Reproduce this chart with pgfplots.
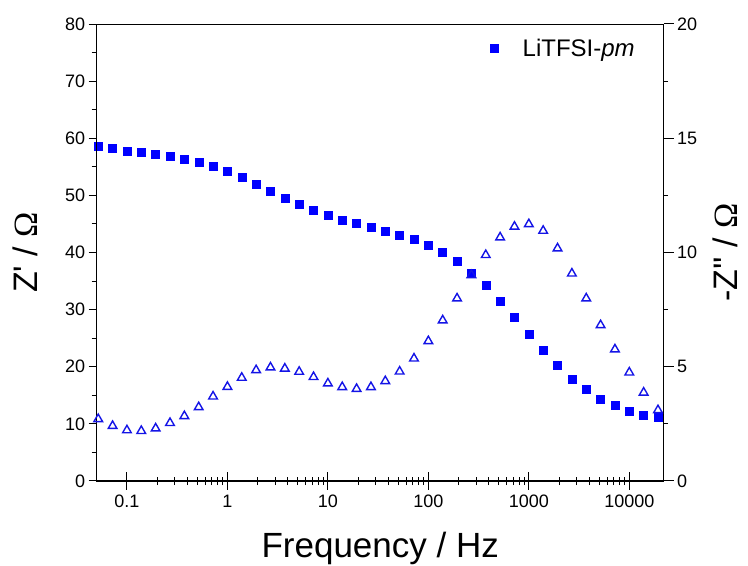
\documentclass[border=0pt]{standalone}
\usepackage{fontspec}
\setmainfont{Liberation Sans}
\newfontfamily\omfont{Liberation Serif}
\usepackage{pgfplots}
\usepackage{pgfplotstable}
\pgfplotsset{compat=1.18}

\pgfplotstableread{
f zr zi
0.05179 58.6 2.71
0.07197 58.25 2.41
0.1 57.8 2.22
0.1389 57.5 2.19
0.1931 57.2 2.30
0.2683 56.8 2.54
0.3728 56.3 2.84
0.5179 55.8 3.23
0.7197 55.1 3.70
1 54.2 4.12
1.389 53.1 4.52
1.931 52.0 4.85
2.683 50.8 4.97
3.728 49.5 4.92
5.179 48.4 4.78
7.197 47.4 4.55
10 46.5 4.27
13.89 45.7 4.11
19.31 45.1 4.03
26.83 44.4 4.11
37.28 43.8 4.37
51.79 43.1 4.79
71.97 42.35 5.36
100 41.35 6.12
138.9 40.0 7.03
193.1 38.5 7.99
268.3 36.4 9.01
372.8 34.2 9.89
517.9 31.5 10.66
719.7 28.7 11.13
1000 25.7 11.24
1389 22.9 10.95
1931 20.2 10.18
2683 17.9 9.08
3728 16.0 7.99
5179 14.4 6.82
7197 13.2 5.76
10000 12.2 4.75
13895 11.5 3.87
19307 11.1 3.10
}\data

\definecolor{mblue}{RGB}{0,0,255}
\definecolor{tblue}{RGB}{20,20,230}

\begin{document}
\begin{tikzpicture}
\useasboundingbox (-96.7pt,-84.3pt) rectangle (651.3pt,481pt);

% main axis: x ticks (centred), Z' data
\begin{axis}[
  width=567pt, height=457pt, scale only axis, at={(0,0)}, anchor=south west,
  xmode=log, xmin=0.05, xmax=22000,
  axis line style={line width=1pt, black},
  every tick/.append style={line width=1pt, black},
  tick label style={font=\fontsize{18}{20}\selectfont},
  /pgf/number format/assume math mode=true,
  ymin=0, ymax=80, ytick=\empty,
  xtick={0.1,1,10,100,1000,10000},
  xticklabels={0.1,1,10,100,1000,10000},
  xtick pos=left, tick align=center,
  major tick length=17pt, minor tick length=8pt,
  xticklabel style={yshift=-2pt},
  xlabel={Frequency / Hz},
  xlabel style={font=\fontsize{35}{40}\selectfont, at={(axis description cs:0.5,-0.147)}, anchor=center},
  legend style={draw=none, fill=none, font=\fontsize{24}{27}\selectfont,
    at={(axis description cs:0.958,0.946)}, anchor=east},
  legend cell align=left,
]
\addplot[only marks, mark=square*, mark size=4pt, color=mblue,
  mark options={draw=mblue, fill=mblue}] table[x=f, y=zr] {\data};
\addlegendentry{\hspace{22pt}LiTFSI-\textit{pm}}
\end{axis}

% left y axis
\begin{axis}[
  width=567pt, height=457pt, scale only axis, at={(0,0)}, anchor=south west,
  xmode=log, xmin=0.05, xmax=22000,
  axis line style={line width=1pt, black},
  every tick/.append style={line width=1pt, black},
  tick label style={font=\fontsize{18}{20}\selectfont},
  /pgf/number format/assume math mode=true,
  ymin=0, ymax=80, ytick={0,10,...,80}, minor y tick num=1,
  xtick=\empty, xminorticks=false, ytick pos=left, tick align=outside,
  major tick length=8pt, minor tick length=5pt,
  ylabel={Z\textquotesingle\ / {\omfont Ω}},
  ylabel style={font=\fontsize{34}{40}\selectfont, at={(axis description cs:-0.1265,0.5)}, anchor=center},
]
\end{axis}

% right y axis, -Z'' data
\begin{axis}[
  width=567pt, height=457pt, scale only axis, at={(0,0)}, anchor=south west,
  xmode=log, xmin=0.05, xmax=22000,
  axis line style={line width=1pt, black},
  every tick/.append style={line width=1pt, black},
  tick label style={font=\fontsize{18}{20}\selectfont},
  /pgf/number format/assume math mode=true,
  axis x line=none, axis y line*=right,
  ymin=0, ymax=20, ytick={0,5,...,20}, minor y tick num=1,
  tick align=outside,
  major tick length=10pt, minor tick length=4.5pt,
  ylabel={-Z\textquotesingle\textquotesingle\ / {\omfont Ω}},
  ylabel style={font=\fontsize{34}{40}\selectfont, at={(axis description cs:1.108,0.5)}, anchor=center},
]
\addplot[only marks, mark=triangle, mark size=5pt, color=tblue,
  mark options={line width=1.4pt}] table[x=f, y=zi] {\data};
\end{axis}
\end{tikzpicture}
\end{document}
